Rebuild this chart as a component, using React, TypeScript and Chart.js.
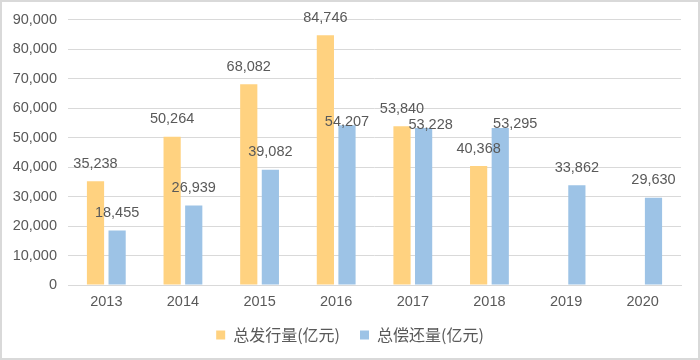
import React, { useEffect, useRef } from "react";
import { Chart, registerables } from "chart.js";

Chart.register(...registerables);

const years = ["2013", "2014", "2015", "2016", "2017", "2018", "2019", "2020"];
const issuance: (number | null)[] = [35238, 50264, 68082, 84746, 53840, 40368, null, null];
const repayment: number[] = [18455, 26939, 39082, 54207, 53228, 53295, 33862, 29630];
const issuanceName = "总发行量(亿元)";
const repaymentName = "总偿还量(亿元)";

const ORANGE = "#FFD280";
const BLUE = "#9DC3E6";
const TEXT = "#595959";
const GRID = "#D9D9D9";
const NUM_FONT = "'Liberation Sans', Arial, sans-serif";

// label nudges (px) per dataset/point, to mimic the original label placement
const labelNudges: Record<number, Record<number, [number, number]>> = {
  1: { 3: [0, 14.5], 4: [7, 14.5], 5: [15, 13.5] },
};

const fmt = (v: number) => v.toLocaleString("en-US");

const dataLabelPlugin = {
  id: "dataLabels",
  afterDatasetsDraw(chart: any) {
    const ctx = chart.ctx;
    ctx.save();
    ctx.font = `14.5px ${NUM_FONT}`;
    ctx.fillStyle = TEXT;
    ctx.textAlign = "center";
    ctx.textBaseline = "middle";
    chart.data.datasets.forEach((ds: any, di: number) => {
      const meta = chart.getDatasetMeta(di);
      meta.data.forEach((el: any, i: number) => {
        const v = ds.data[i];
        if (v === null || v === undefined) return;
        const n = (labelNudges[di] && labelNudges[di][i]) || [0, 0];
        ctx.fillText(fmt(v), el.x + n[0], el.y - 17.5 + n[1]);
      });
    });
    ctx.restore();
  },
};

const framePlugin = {
  id: "frame",
  beforeDraw(chart: any) {
    const ctx = chart.ctx;
    ctx.save();
    ctx.fillStyle = "#FFFFFF";
    ctx.fillRect(0, 0, chart.width, chart.height);
    ctx.strokeStyle = GRID;
    ctx.lineWidth = 2;
    ctx.strokeRect(1, 1, chart.width - 2, chart.height - 2);
    ctx.restore();
  },
};

export default function App() {
  const ref = useRef<HTMLCanvasElement | null>(null);
  useEffect(() => {
    if (!ref.current) return;
    const chart = new Chart(ref.current, {
      type: "bar",
      data: {
        labels: years,
        datasets: [
          {
            label: issuanceName,
            data: issuance,
            backgroundColor: ORANGE,
            categoryPercentage: 0.564,
            barPercentage: 0.796,
          },
          {
            label: repaymentName,
            data: repayment,
            backgroundColor: BLUE,
            categoryPercentage: 0.564,
            barPercentage: 0.796,
          },
        ],
      },
      options: {
        animation: false,
        responsive: true,
        maintainAspectRatio: false,
        layout: { padding: { top: 19, right: 0, left: 0, bottom: 7 } },
        plugins: {
          legend: {
            position: "bottom",
            labels: {
              boxWidth: 9,
              boxHeight: 9,
              padding: 20,
              color: TEXT,
              font: { size: 16, family: "'Noto Sans CJK SC', sans-serif" },
            },
          },
          tooltip: { enabled: false },
        },
        scales: {
          x: {
            grid: { display: false, drawTicks: false },
            border: { display: true, color: GRID, width: 1 },
            ticks: { padding: 8, color: TEXT, font: { size: 14.5, family: NUM_FONT } },
            afterFit: (s: any) => {
              s.height = 22;
            },
          },
          y: {
            min: 0,
            max: 90000,
            grid: { color: GRID, drawTicks: false },
            border: { display: false },
            ticks: {
              stepSize: 10000,
              padding: 11,
              color: TEXT,
              font: { size: 14.5, family: NUM_FONT },
              callback: (v: any) => fmt(Number(v)),
            },
            afterFit: (s: any) => {
              s.width = 68;
            },
          },
          yRightSpacer: {
            position: "right",
            min: 0,
            max: 1,
            grid: { display: false, drawTicks: false },
            border: { display: false },
            ticks: { display: false },
            afterFit: (s: any) => {
              s.width = 19;
            },
          },
        },
      },
      plugins: [framePlugin, dataLabelPlugin],
    });
    return () => chart.destroy();
  }, []);
  return (
    <div style={{ position: "absolute", left: 0, top: 0, width: 700, height: 360 }}>
      <canvas ref={ref} />
    </div>
  );
}
